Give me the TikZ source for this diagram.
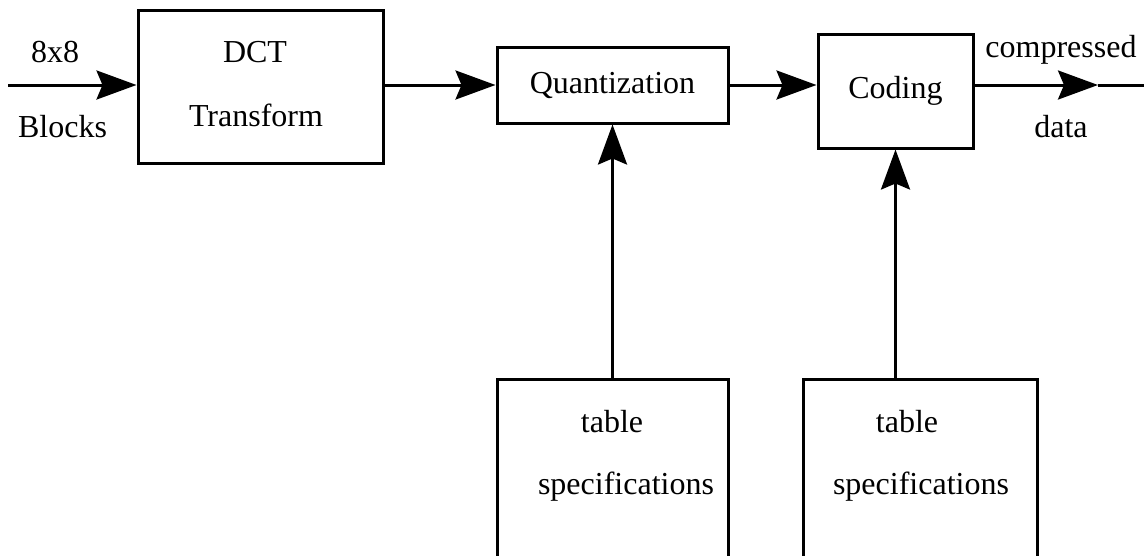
\documentclass[tikz,border=0pt]{standalone}
\usepackage{fontspec}
\setmainfont{Liberation Serif}
\usetikzlibrary{arrows.meta}
\begin{document}
\begin{tikzpicture}[x=1pt,y=-1pt,
  box/.style={draw,line width=3pt,inner sep=0pt},
  lbl/.style={font=\fontsize{32}{38}\selectfont,inner sep=0pt,anchor=base},
  txt/.style={font=\fontsize{32}{38}\selectfont},
  ln/.style={line width=3pt},
  arr/.style={line width=3pt,-{Stealth[length=40pt,width=29pt,inset=6pt]}}]
\useasboundingbox (0,0) rectangle (1144,555);
\clip (0,0) rectangle (1144,555);
% boxes
\node[box,txt,minimum width=245pt,minimum height=153pt] (dct) at (260.5,86.5) {};
\node[box,txt,minimum width=231pt,minimum height=76pt] (quant) at (612.5,85) {Quantization};
\node[box,txt,minimum width=155pt,minimum height=114pt] (coding) at (895.5,91) {Coding};
\node[box,minimum width=231pt,minimum height=200pt,anchor=north] (tab1) at (612.5,378) {};
\node[box,minimum width=234pt,minimum height=200pt,anchor=north] (tab2) at (920,378) {};
% texts
\node[lbl] (dcta) at (255,62) {DCT};
\node[lbl] (dctb) at (256,126) {Transform};
\node[lbl] (ina) at (55,62) {8x8};
\node[lbl] (inb) at (62.5,137) {Blocks};
\node[lbl] (outa) at (1061,57) {compressed};
\node[lbl] (outb) at (1061,137) {data};
\node[lbl] (t1a) at (612,432) {table};
\node[lbl] (t1b) at (626,494) {specifications};
\node[lbl] (t2a) at (907,432) {table};
\node[lbl] (t2b) at (921,494) {specifications};
% connectors
\coordinate (in) at (8,85);
\coordinate (outmid) at (1098,85);
\coordinate (outend) at (1144,85);
\draw[arr] (in) -- (in -| dct.west);
\draw[arr] (quant.west -| dct.east) -- (quant.west);
\draw[arr] (quant.east) -- (quant.east -| coding.west);
\draw[arr] (quant.east -| coding.east) -- (outmid);
\draw[ln] (outmid) -- (outend);
\draw[arr] (tab1.north) -- (quant.south);
\draw[arr] (tab2.north -| coding.south) -- (coding.south);
\end{tikzpicture}
\end{document}
